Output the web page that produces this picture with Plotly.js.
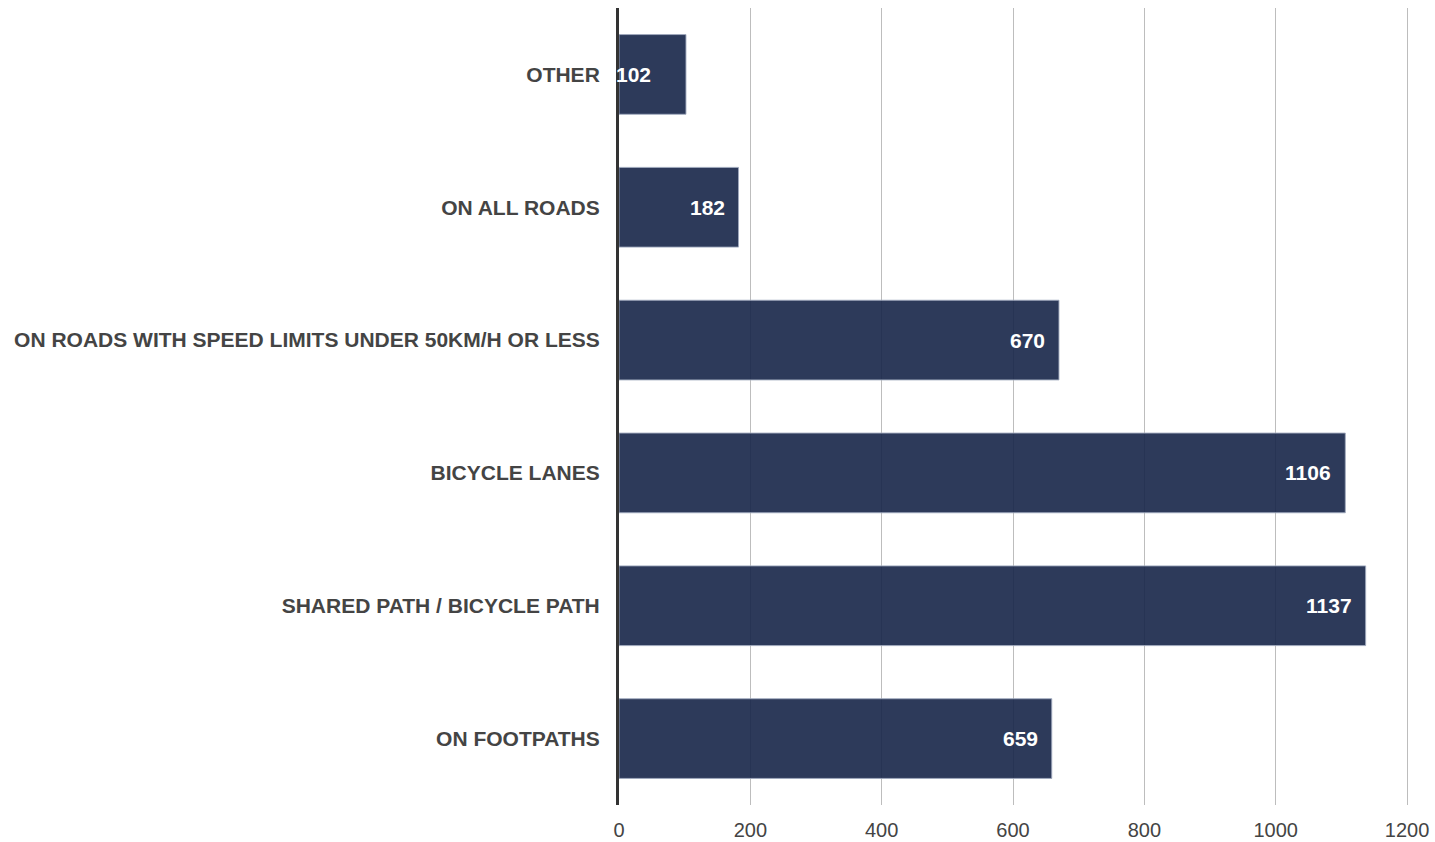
<!DOCTYPE html>
<html><head><meta charset="utf-8">
<script src="https://cdn.plot.ly/plotly-3.0.1.min.js"></script>
<style>html,body{margin:0;padding:0;background:#fff}#c{width:1435px;height:842px}</style>
</head><body><div id="c"></div>
<script>
const categories = ["ON FOOTPATHS","SHARED PATH / BICYCLE PATH","BICYCLE LANES","ON ROADS WITH SPEED LIMITS UNDER 50KM/H OR LESS","ON ALL ROADS","OTHER"];
const values = [659, 1137, 1106, 670, 182, 102];
const xTicks = [0, 200, 400, 600, 800, 1000, 1200];

const trace = {
  type: "bar", orientation: "h",
  y: categories, x: values,
  marker: {color: "rgba(22,37,72,0.9)", line: {color: "rgba(160,170,190,0.9)", width: 1}},
  hoverinfo: "none"
};

const annotations = values.map((v, i) => {
  const small = v < 150;
  return {
    x: small ? 0 : v, y: categories[i], xref: "x", yref: "y",
    text: String(v), showarrow: false,
    xanchor: small ? "left" : "right", xshift: small ? -5 : -12,
    font: {family: "Liberation Sans, Arial, sans-serif", size: 21, color: "#ffffff", weight: "bold"}
  };
});

const layout = {
  width: 1435, height: 842,
  margin: {l: 619, r: 26, t: 8, b: 37},
  paper_bgcolor: "#fff", plot_bgcolor: "#fff",
  showlegend: false, bargap: 0.4,
  font: {family: "Liberation Sans, Arial, sans-serif", color: "#444"},
  xaxis: {
    range: [0, 1203], tickvals: xTicks, ticktext: xTicks.map(String),
    showgrid: true, gridcolor: "#bdbdbd", gridwidth: 1,
    zeroline: false, showline: false, ticks: "",
    ticklabelstandoff: 11,
    tickfont: {size: 20, color: "#444"}
  },
  yaxis: {
    type: "category", showgrid: false, zeroline: false,
    showline: true, linecolor: "#333", linewidth: 3,
    ticks: "", ticklabelstandoff: 12,
    tickfont: {size: 21, color: "#444", weight: "bold"}
  },
  annotations: annotations
};

Plotly.newPlot("c", [trace], layout, {displayModeBar: false, staticPlot: true});
</script></body></html>
